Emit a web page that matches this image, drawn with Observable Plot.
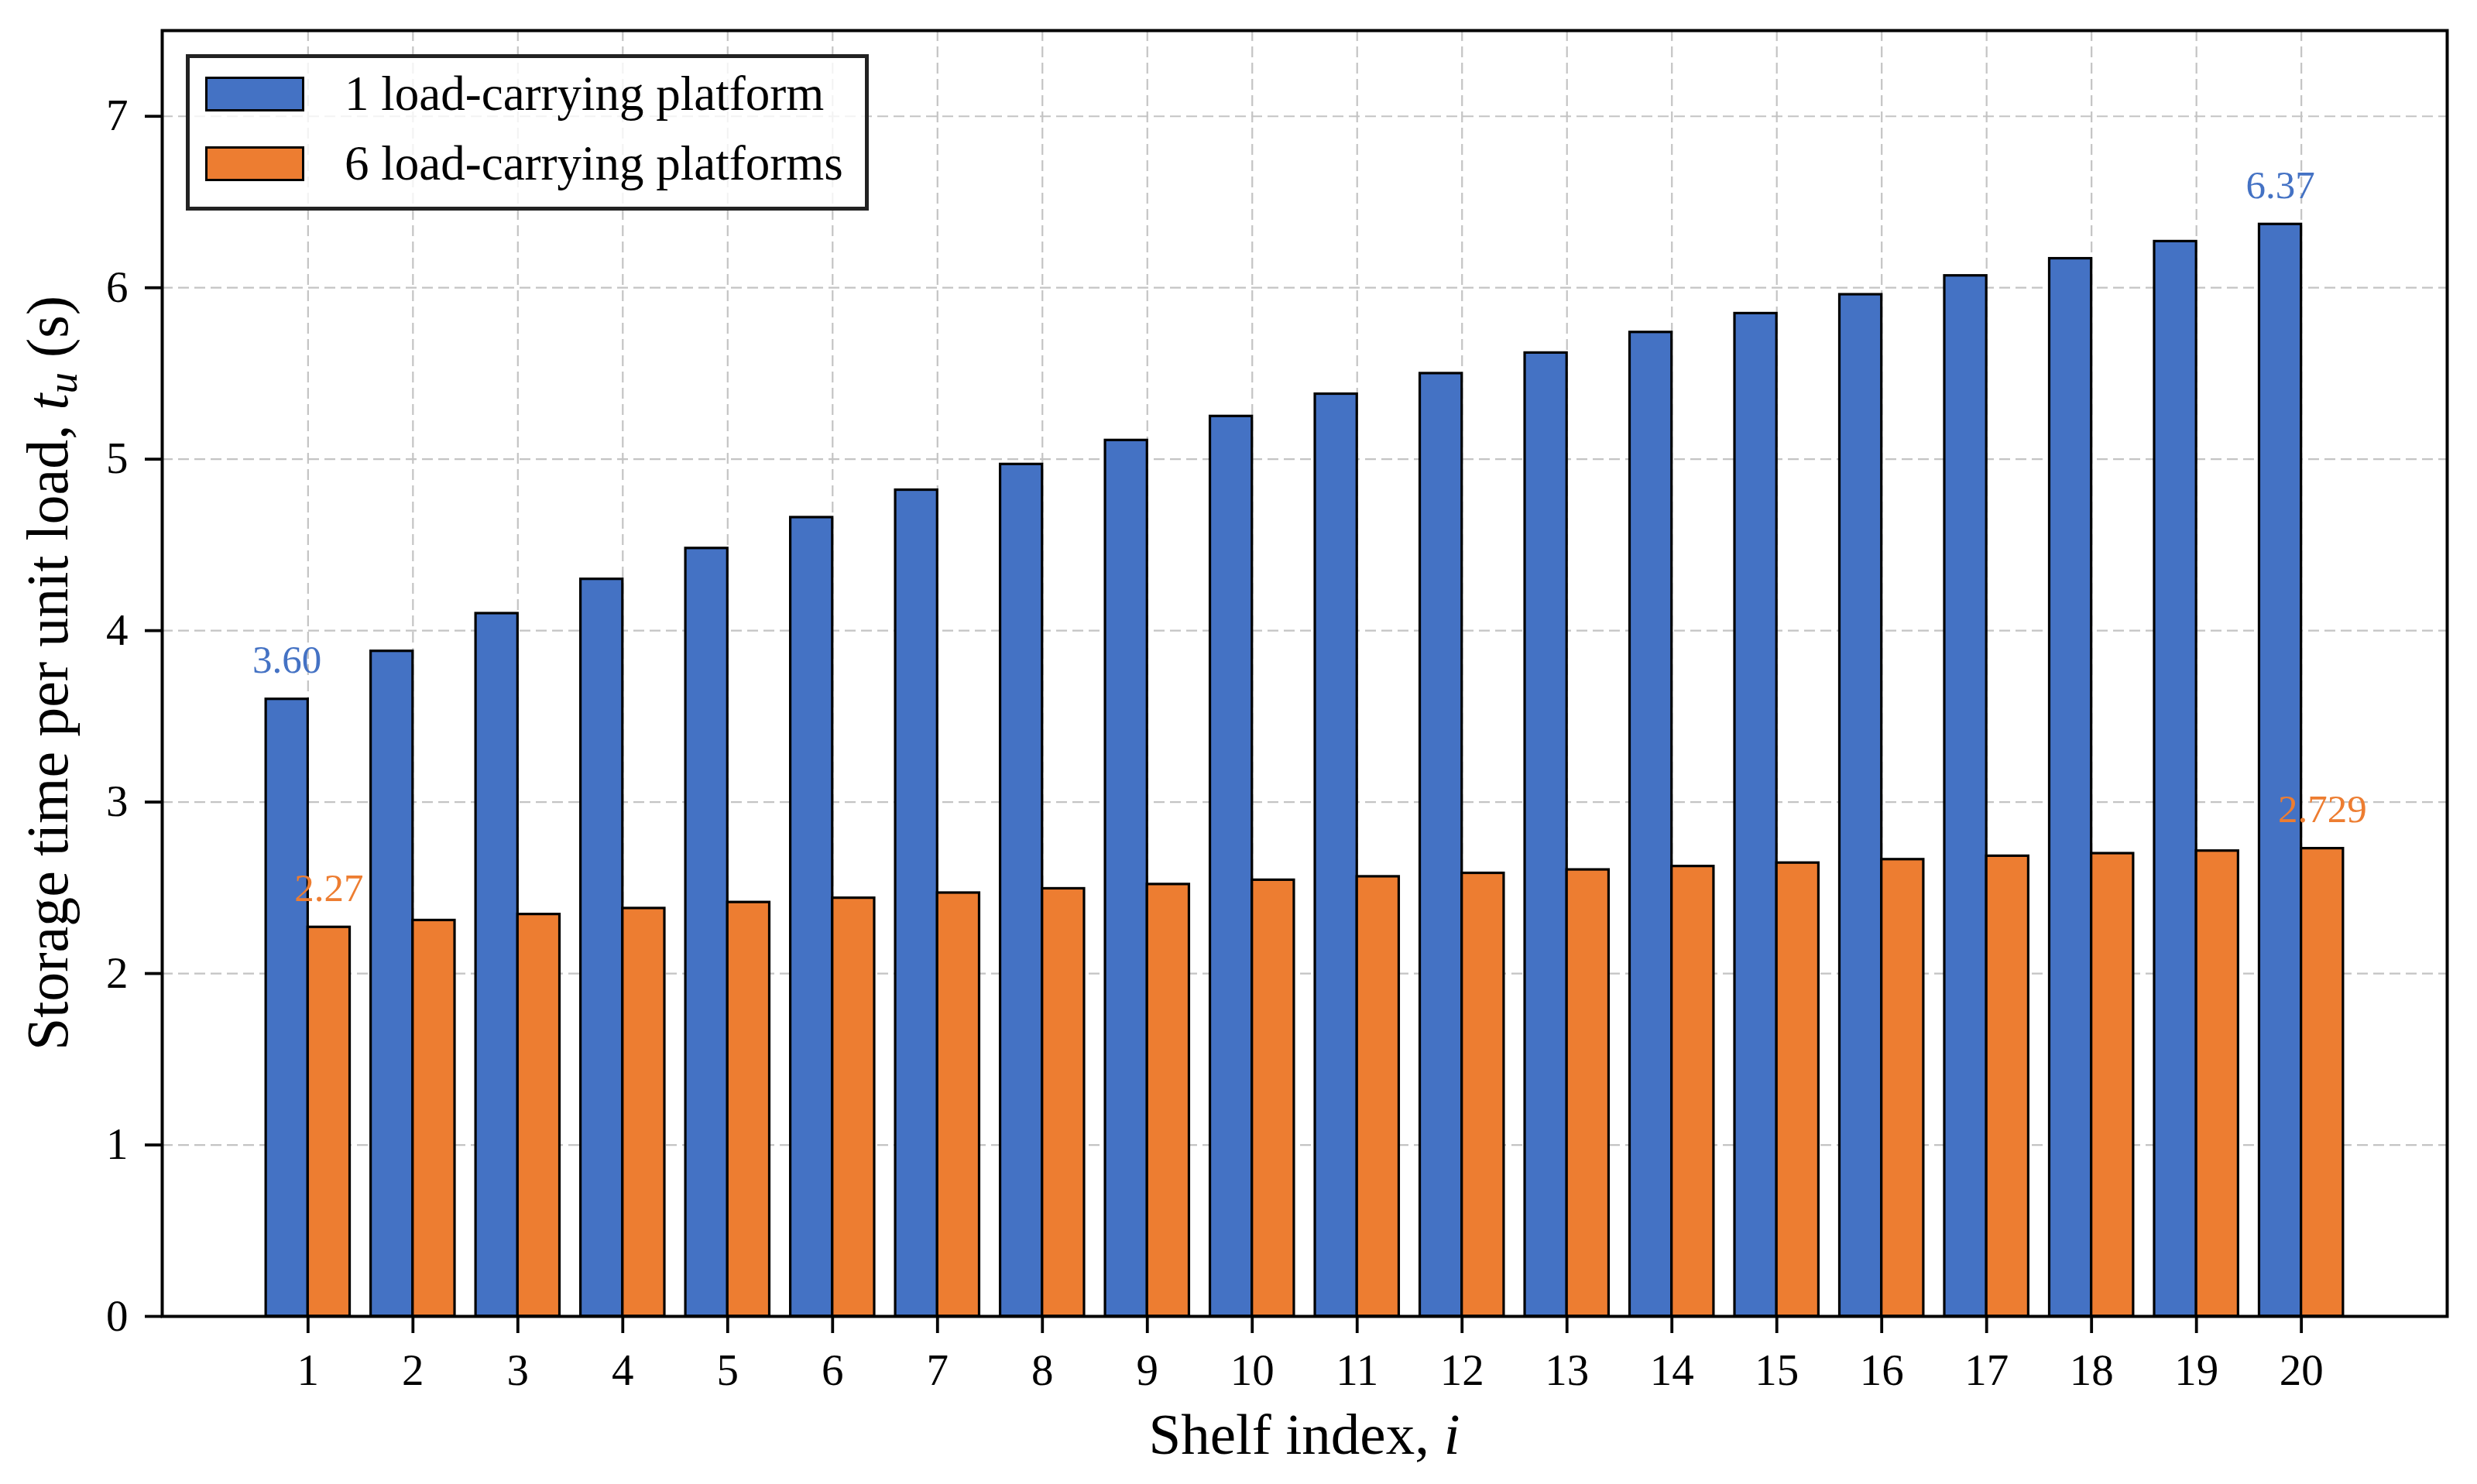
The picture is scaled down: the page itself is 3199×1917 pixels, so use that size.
<!DOCTYPE html>
<html>
<head>
<meta charset="utf-8">
<script src="https://cdn.jsdelivr.net/npm/d3@7"></script>
<script src="https://cdn.jsdelivr.net/npm/@observablehq/plot@0.6"></script>
<style>
  html, body { margin: 0; padding: 0; background: white; }
  #wrap { position: relative; width: 3199px; height: 1917px; }
  #legend {
    position: absolute; left: 240px; top: 70px; width: 872px; height: 192px;
    border: 5px solid #222; background: rgba(255,255,255,0.8);
    font-family: "Liberation Serif", serif; font-size: 63px; color: #000;
  }
  .lg-row { position: absolute; left: 0; height: 48px; display: flex; align-items: center; }
  .lg-sw { position: absolute; left: 20px; width: 122px; height: 39px; border: 3px solid #000; }
  .lg-tx { position: absolute; left: 200px; white-space: nowrap; line-height: 1; }
</style>
</head>
<body>
<div id="wrap"><div id="legend"></div></div>
<script>
// ---- data ----
const shelves = [1,2,3,4,5,6,7,8,9,10,11,12,13,14,15,16,17,18,19,20];
const onePlatform = [3.60,3.88,4.10,4.30,4.48,4.66,4.82,4.97,5.11,5.25,5.38,5.50,5.62,5.74,5.85,5.96,6.07,6.17,6.27,6.37];
const sixPlatforms = [2.27,2.31,2.345,2.38,2.415,2.44,2.47,2.495,2.52,2.545,2.565,2.585,2.605,2.625,2.645,2.665,2.685,2.70,2.715,2.729];
const seriesNames = ["1 load-carrying platform", "6 load-carrying platforms"];
const seriesColors = ["#4472C4", "#ED7D31"];
const yTicks = [0,1,2,3,4,5,6,7];
const annotShelf = [1, 20, 1, 20];
const annotSeries = [0, 0, 1, 1];
const annotLabels = ["3.60", "6.37", "2.27", "2.729"];

// ---- build tables ----
const bars = [];
shelves.forEach((s, k) => {
  bars.push({shelf: s, value: onePlatform[k], series: 0});
  bars.push({shelf: s, value: sixPlatforms[k], series: 1});
});
const annots = annotLabels.map((t, k) => {
  const s = annotShelf[k], ser = annotSeries[k];
  const v = (ser === 0 ? onePlatform : sixPlatforms)[shelves.indexOf(s)];
  return {shelf: s, series: ser, value: v, text: t};
});

const W = 3199, H = 1917;
const mL = 209, mR = 39, mT = 39, mB = 217;
const barW = 0.4;
const gridStyle = {stroke: "#c4c4c4", strokeOpacity: 1, strokeWidth: 2.2, strokeDasharray: "14,7"};

const chart = Plot.plot({
  width: W, height: H,
  marginLeft: mL, marginRight: mR, marginTop: mT, marginBottom: mB,
  style: {fontFamily: "Liberation Serif, serif", fontSize: "57px", color: "#000", background: "white"},
  x: {type: "linear", domain: [0.6 - 0.99, 20.4 + 0.99]},
  y: {domain: [0, 7.5]},
  marks: [
    Plot.gridY(yTicks.filter(d => d > 0), gridStyle),
    Plot.gridX(shelves, gridStyle),
    Plot.rectY(bars, {
      x1: d => d.series === 0 ? d.shelf - barW : d.shelf,
      x2: d => d.series === 0 ? d.shelf : d.shelf + barW,
      y1: 0, y2: "value",
      fill: d => seriesColors[d.series],
      stroke: "#000", strokeWidth: 3.2
    }),
    Plot.text(annots, {
      x: d => d.series === 0 ? d.shelf - barW / 2 : d.shelf + barW / 2,
      y: "value", text: "text",
      fill: d => seriesColors[d.series],
      lineAnchor: "bottom", dy: -34, fontSize: 51, textAnchor: "middle"
    }),
    Plot.axisX({ticks: shelves, tickFormat: d => String(d), tickSize: 22, tickPadding: 26, strokeWidth: 3.8, label: null, fontSize: 57}),
    Plot.axisY({ticks: yTicks, tickFormat: d => String(d), tickSize: 22, tickPadding: 22, strokeWidth: 3.8, label: null, fontSize: 57}),
    Plot.frame({stroke: "#000", strokeWidth: 4})
  ]
});

const wrap = document.getElementById("wrap");
wrap.insertBefore(chart, wrap.firstChild);

// axis titles with italic math parts
const svg = d3.select(chart);
const cx = mL + (W - mL - mR) / 2;
const cy = mT + (H - mT - mB) / 2;
const xt = svg.append("text")
  .attr("x", cx).attr("y", 1878)
  .attr("text-anchor", "middle")
  .attr("font-family", "Liberation Serif, serif")
  .attr("font-size", 75).attr("fill", "#000");
xt.append("tspan").text("Shelf index, ");
xt.append("tspan").attr("font-style", "italic").text("i");

const yt = svg.append("text")
  .attr("transform", `translate(87,${cy}) rotate(-90)`)
  .attr("text-anchor", "middle")
  .attr("font-family", "Liberation Serif, serif")
  .attr("font-size", 76).attr("fill", "#000");
yt.append("tspan").text("Storage time per unit load, ");
yt.append("tspan").attr("font-style", "italic").text("t");
yt.append("tspan").attr("font-style", "italic").attr("font-size", 55).attr("dy", 12).text("u");
yt.append("tspan").attr("dy", -12).text(" (s)");

// legend
const legend = document.getElementById("legend");
seriesNames.forEach((name, k) => {
  const row = document.createElement("div");
  row.className = "lg-row";
  row.style.top = (22 + k * 90) + "px";
  row.style.width = "100%";
  const sw = document.createElement("div");
  sw.className = "lg-sw";
  sw.style.background = seriesColors[k];
  const tx = document.createElement("div");
  tx.className = "lg-tx";
  tx.textContent = name;
  row.appendChild(sw); row.appendChild(tx);
  legend.appendChild(row);
});
</script>
</body>
</html>
